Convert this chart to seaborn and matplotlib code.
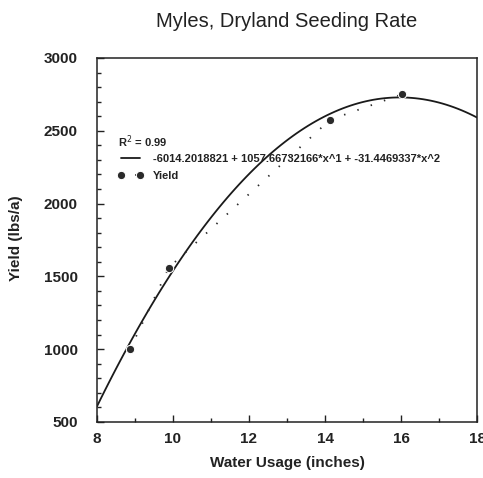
import numpy as np
import pandas as pd
import matplotlib
matplotlib.use('Agg')
import matplotlib.pyplot as plt
import seaborn as sns
from matplotlib.ticker import MultipleLocator

# values
water = [8.87, 9.89, 14.13, 16.02]
yld = [1000, 1560, 2575, 2750]
eq_label = "-6014.2018821 + 1057.66732166*x^1 + -31.4469337*x^2"
r2_label = "R$^2$ = 0.99"

df = pd.DataFrame({'water': water, 'yield': yld})

sns.set_theme(style='white')
plt.rcParams['font.family'] = ['Liberation Sans', 'DejaVu Sans']

fig = plt.figure(figsize=(4.83, 4.78), dpi=100)
ax = fig.add_axes([0.2008, 0.1172, 0.7868, 0.7615])
ax.set_xlim(8, 18)
ax.set_ylim(500, 3000)

# quadratic trend line over the full x range
sns.regplot(data=df, x='water', y='yield', order=2, ci=None, scatter=False,
            truncate=False, ax=ax, label=eq_label,
            line_kws=dict(color='#1a1a1a', lw=1.3))

# observed yield, dotted line with markers
sns.lineplot(data=df, x='water', y='yield', ax=ax, color='#2a2a2a',
             marker='o', markersize=6, lw=1.3, dashes=False, label='Yield')
ax.lines[-1].set_linestyle((0, (0.8, 7)))

ax.set_xlim(8, 18)
ax.set_ylim(500, 3000)
ax.xaxis.set_major_locator(MultipleLocator(2))
ax.xaxis.set_minor_locator(MultipleLocator(1))
ax.yaxis.set_major_locator(MultipleLocator(500))
ax.yaxis.set_minor_locator(MultipleLocator(100))
ax.tick_params(which='both', direction='in', color='#222222', width=1.0,
               bottom=True, left=True, labelsize=11)
ax.tick_params(which='major', length=5)
ax.tick_params(which='minor', length=3)
ax.tick_params(axis='y', pad=14)
ax.tick_params(axis='x', pad=7)
for lab in ax.get_xticklabels() + ax.get_yticklabels():
    lab.set_fontweight('bold')
    lab.set_color('#222222')
for s in ax.spines.values():
    s.set_color('#222222')
    s.set_linewidth(1.1)

ax.set_xlabel('Water Usage (inches)', fontsize=11, fontweight='bold',
              color='#222222')
ax.xaxis.set_label_coords(0.5, -0.093)
ax.set_ylabel('Yield (lbs/a)', fontsize=11, fontweight='bold',
              color='#222222')
ax.yaxis.set_label_coords(-0.195, 0.505)
ax.set_title('Myles, Dryland Seeding Rate', fontsize=14.5, color='#222222',
             pad=22)

ax.text(0.055, 0.769, r2_label, transform=ax.transAxes, fontsize=8,
        fontweight='bold', color='#222222', va='center')
leg = ax.legend(loc='upper left', bbox_to_anchor=(0.055, 0.736), frameon=False,
                fontsize=8, handlelength=2.3, handletextpad=0.85,
                labelspacing=0.6, borderaxespad=0, borderpad=0, numpoints=2)
for t in leg.get_texts():
    t.set_fontweight('bold')
    t.set_color('#222222')

fig.savefig('out.png', dpi=100)
